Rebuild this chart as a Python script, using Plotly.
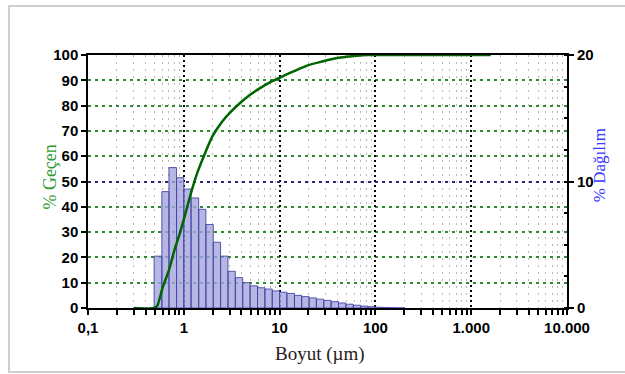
import plotly.graph_objects as go

# Particle size distribution: bin edges (µm) and % per bin
bin_edges = [0.49, 0.59, 0.70, 0.84, 1.0, 1.19, 1.43, 1.70, 2.03, 2.42, 2.89, 3.45,
             4.12, 4.92, 5.88, 7.02, 8.38, 10.0, 11.9, 14.3, 17.0, 20.3, 24.2, 28.9,
             34.5, 41.2, 49.2, 58.8, 70.2, 83.8, 100, 119, 143, 170, 203]
dist_pct = [4.1, 9.2, 11.1, 10.3, 9.4, 8.7, 7.8, 6.6, 5.2, 4.1, 2.9, 2.4, 2.0,
            1.75, 1.6, 1.5, 1.35, 1.25, 1.15, 1.0, 0.9, 0.8, 0.7, 0.6, 0.5, 0.4,
            0.3, 0.22, 0.15, 0.1, 0.06, 0.04, 0.02, 0.01]

# Cumulative passing curve
cum_size = [0.3, 0.49, 0.53, 0.6, 0.7, 0.8, 0.9, 1.0, 1.2, 1.4, 1.7, 2.0, 2.5, 3.0,
            4.0, 5.0, 6.0, 8.0, 10, 13, 16, 20, 25, 32, 40, 50, 63, 80, 100, 1600]
cum_pct = [0, 0, 1, 8, 15, 23, 29, 35, 46, 54, 62, 68, 73.5, 77, 81.5, 84.5, 86.5,
           89.3, 91, 93, 94.5, 96, 97, 98, 98.8, 99.3, 99.7, 100, 100, 100]

# Axis ticks
x_tickvals = [0.1, 1, 10, 100, 1000, 10000]
x_ticktext = ["0,1", "1", "10", "100", "1.000", "10.000"]
x_minor = [m * d for d in [0.1, 1, 10, 100, 1000] for m in range(2, 10)]
left_tickvals = list(range(0, 101, 10))
left_gridvals = [10, 20, 30, 40, 60, 70, 80, 90]
right_tickvals = [0, 10, 20]

# Build closed outlines for every histogram bar
bx, by = [], []
for lo, hi, v in zip(bin_edges[:-1], bin_edges[1:], dist_pct):
    bx += [lo, lo, hi, hi, lo, None]
    by += [0, v, v, 0, 0, None]

fig = go.Figure()
fig.add_trace(go.Scatter(
    x=bx, y=by, yaxis="y", mode="lines", fill="toself",
    fillcolor="rgba(165,165,220,0.8)",
    line=dict(color="rgba(70,70,170,0.9)", width=1),
    hoverinfo="skip", showlegend=False))
fig.add_trace(go.Scatter(
    x=cum_size, y=cum_pct, yaxis="y2", mode="lines",
    line=dict(color="#006400", width=2.5, shape="spline", smoothing=0.6),
    showlegend=False))

tick_font = dict(family="Liberation Sans, Arial, sans-serif", size=15,
                 color="black", weight="bold")
serif = "Liberation Serif, Times New Roman, serif"

fig.update_layout(
    width=625, height=374,
    margin=dict(l=88, r=58, t=55, b=66),
    paper_bgcolor="white", plot_bgcolor="white",
    xaxis=dict(
        type="log", range=[-1, 4],
        tickvals=x_tickvals, ticktext=x_ticktext, tickfont=tick_font,
        ticks="outside", ticklen=5, tickwidth=1.5, tickcolor="black",
        showline=True, linecolor="black", linewidth=1.5, mirror=True,
        showgrid=True, gridcolor="black", gridwidth=2, griddash="2px,3px",
        minor=dict(tickvals=x_minor, ticks="outside", ticklen=5, tickwidth=1.5,
                   tickcolor="black", showgrid=True, gridcolor="#b8b8b8",
                   gridwidth=1, griddash="2px,5px"),
        zeroline=False,
    ),
    # distribution axis (right)
    yaxis=dict(
        side="right", range=[0, 20], tickvals=right_tickvals,
        tickfont=tick_font, ticks="outside", ticklen=5, tickwidth=1.5,
        tickcolor="black", showline=True, linecolor="black", linewidth=2,
        showgrid=True, gridcolor="#28287a", gridwidth=2, griddash="3px,4px",
        minor=dict(dtick=2.5, ticks="inside", ticklen=3, tickcolor="black",
                   showgrid=False),
        zeroline=False,
    ),
    # cumulative axis (left)
    yaxis2=dict(
        overlaying="y", side="left", range=[0, 100], tickvals=left_tickvals,
        tickfont=tick_font, ticks="outside", ticklen=5, tickwidth=1.5,
        tickcolor="black", showline=True, linecolor="black", linewidth=1.5,
        showgrid=False,
        minor=dict(tickvals=left_gridvals, ticks="", showgrid=True,
                   gridcolor="#2e8b2e", gridwidth=2, griddash="3px,4px"),
        zeroline=False,
    ),
    annotations=[
        dict(text="% Geçen", xref="paper", yref="paper", x=-0.079, y=0.516,
             xanchor="center", yanchor="middle", textangle=-90, showarrow=False,
             font=dict(family=serif, size=18, color="#2f9a2f")),
        dict(text="% Dağılım", xref="paper", yref="paper", x=1.067, y=0.565,
             xanchor="center", yanchor="middle", textangle=-90, showarrow=False,
             font=dict(family=serif, size=17, color="#3a3aff")),
        dict(text="Boyut (µm)", xref="paper", yref="paper", x=0.484, y=-0.18,
             xanchor="center", yanchor="middle", showarrow=False,
             font=dict(family=serif, size=19, color="#2a1a1a")),
    ],
    shapes=[
        dict(type="rect", xref="paper", yref="paper", layer="below",
             x0=-0.165, x1=1.16, y0=-0.253, y1=1.194,
             line=dict(color="#cfcfcf", width=2), fillcolor="rgba(0,0,0,0)"),
    ],
)

fig.write_html("out.html")
